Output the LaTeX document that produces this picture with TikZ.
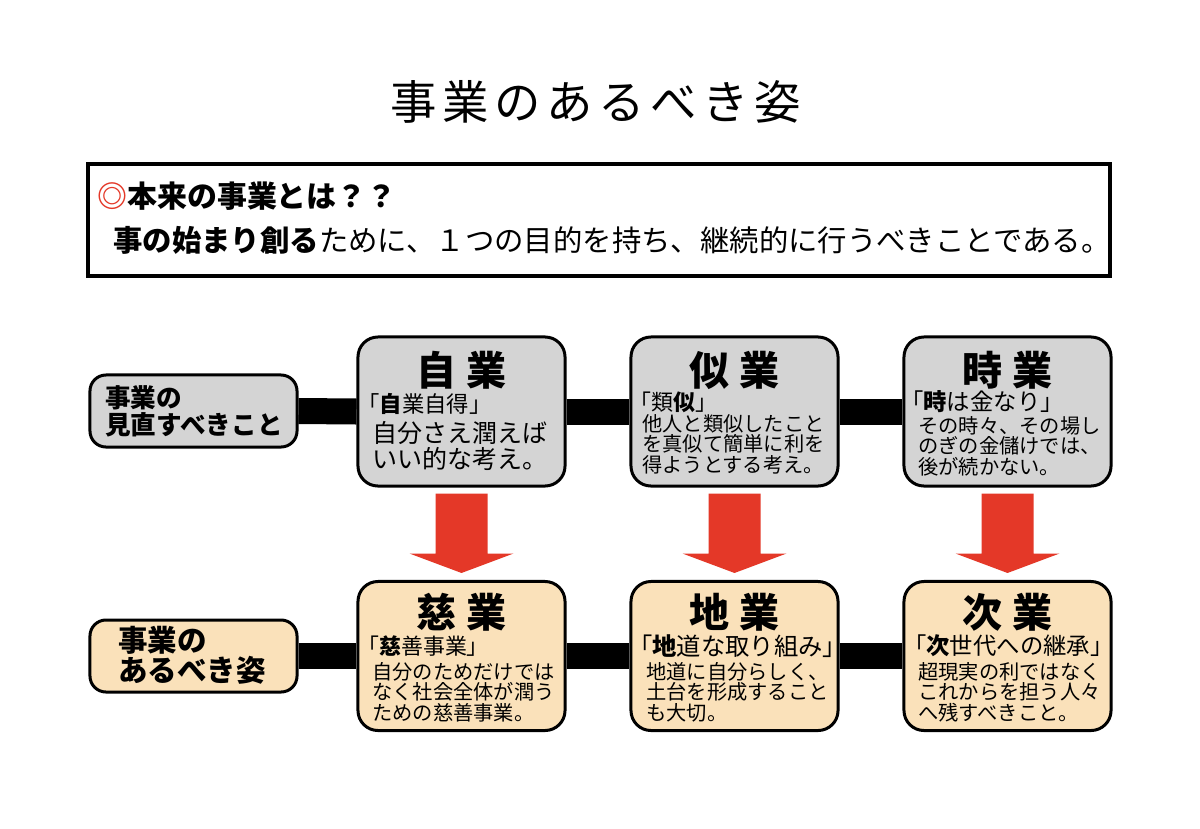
\documentclass[tikz,border=0pt]{standalone}
\usepackage{fontspec}
\setmainfont{Noto Sans CJK JP}
\newfontfamily\titlefont[LetterSpace=12]{Noto Sans CJK JP}
\usetikzlibrary{calc}

\definecolor{boxgray}{RGB}{212,212,212}
\definecolor{boxbeige}{RGB}{250,225,186}
\definecolor{arrowred}{RGB}{228,56,40}

\tikzset{
  bizbox/.style={draw=black, line width=0.075cm, rounded corners=0.5cm, minimum width=5.175cm, minimum height=3.725cm, inner sep=0pt},
  tagbox/.style={draw=black, line width=0.075cm, rounded corners=0.4cm, minimum width=5.175cm, minimum height=1.8cm, inner sep=0pt},
  headtext/.style={inner sep=0pt, font=\bfseries\fontsize{28.5}{30}\selectfont},
  quotetext/.style={inner sep=0pt, anchor=west, font=\fontsize{16}{17}\selectfont},
  bodytext/.style={inner sep=0pt, anchor=west, align=left, font=\fontsize{14.4}{14.6}\selectfont},
  bar/.style={line width=0.65cm, black},
  redarrow/.style={fill=arrowred}
}

\begin{document}
\begin{tikzpicture}[x=0.025cm, y=-0.025cm]
\useasboundingbox[fill=white] (0,0) rectangle (1200,828);

% title
\node[inner sep=0pt, font=\titlefont\fontsize{33}{34}\selectfont] (title) at (596,102) {事業のあるべき姿};

% definition box
\node[draw=black, line width=0.1cm, minimum width=25.55cm, minimum height=2.8cm, inner sep=0pt] (honrai) at (599,220) {};
\node[inner sep=0pt, anchor=west, font=\bfseries\fontsize{21.3}{22}\selectfont] (honraiq) at (97,196) {\textcolor{arrowred}{◎}本来の事業とは？？};
\node[inner sep=0pt, anchor=west, font=\fontsize{20.9}{21}\selectfont] (honraia) at (113,240) {{\bfseries 事の始まり創る}ために、１つの目的を持ち、継続的に行うべきことである。};

% upper row
\node[tagbox, fill=boxgray] (mitoshi) at (193.5,411) {};
\node[bizbox, fill=boxgray] (selfbiz) at (461.5,411.5) {};
\node[bizbox, fill=boxgray] (mimicbiz) at (734.5,411.5) {};
\node[bizbox, fill=boxgray] (timebiz) at (1007.5,411.5) {};

% lower row
\node[tagbox, fill=boxbeige] (arubeki) at (193.5,656) {};
\node[bizbox, fill=boxbeige] (charitybiz) at (461.5,656) {};
\node[bizbox, fill=boxbeige] (groundbiz) at (734.5,656) {};
\node[bizbox, fill=boxbeige] (nextbiz) at (1007.5,656) {};

% bars
\draw[bar] (mitoshi.east) -- (selfbiz.west);
\draw[bar] (selfbiz.east) -- (mimicbiz.west);
\draw[bar] (mimicbiz.east) -- (timebiz.west);
\draw[bar] (arubeki.east) -- (charitybiz.west);
\draw[bar] (charitybiz.east) -- (groundbiz.west);
\draw[bar] (groundbiz.east) -- (nextbiz.west);

% red arrows
\fill[redarrow] ($(selfbiz.south)+(-26,6)$) -- ++(52,0) -- ++(0,60) -- ++(26,0) -- ($(charitybiz.north)+(0,-7)$) -- ($(selfbiz.south)+(-52,66)$) -- ++(26,0) -- cycle;
\fill[redarrow] ($(mimicbiz.south)+(-26,6)$) -- ++(52,0) -- ++(0,60) -- ++(26,0) -- ($(groundbiz.north)+(0,-7)$) -- ($(mimicbiz.south)+(-52,66)$) -- ++(26,0) -- cycle;
\fill[redarrow] ($(timebiz.south)+(-26,6)$) -- ++(52,0) -- ++(0,60) -- ++(26,0) -- ($(nextbiz.north)+(0,-7)$) -- ($(timebiz.south)+(-52,66)$) -- ++(26,0) -- cycle;

% left labels
\node[inner sep=0pt, anchor=west, align=left, font=\bfseries\fontsize{18.2}{19.2}\selectfont] (mitoshit) at (105,411) {事業の\\見直すべきこと};
\node[inner sep=0pt, anchor=west, align=left, font=\bfseries\fontsize{21}{21.3}\selectfont] (arubekit) at (118,655) {事業の\\あるべき姿};

% upper texts
\node[headtext] (selfh) at (461.5,370) {自\hspace{0.25em}業};
\node[quotetext, font=\fontsize{15.9}{16}\selectfont] (selfq) at (357,404) {「{\bfseries 自}業自得」};
\node[bodytext, font=\fontsize{17.8}{17.8}\selectfont] (selft) at (372,446) {自分さえ潤えば\\いい的な考え。};

\node[headtext] (mimich) at (734.5,370) {似\hspace{0.25em}業};
\node[quotetext, font=\fontsize{15.6}{16}\selectfont] (mimicq) at (629,402) {「類{\bfseries 似}」};
\node[bodytext] (mimict) at (642,444) {他人と類似したこと\\を真似て簡単に利を\\得ようとする考え。};

\node[headtext] (timeh) at (1007.5,370) {時\hspace{0.25em}業};
\node[quotetext, font=\fontsize{16.6}{17}\selectfont] (timeq) at (900,402) {「{\bfseries 時}は金なり」};
\node[bodytext] (timet) at (918,446) {その時々、その場し\\のぎの金儲けでは、\\後が続かない。};

% lower texts
\node[headtext] (charityh) at (461.5,612) {慈\hspace{0.25em}業};
\node[quotetext, font=\fontsize{15.6}{16}\selectfont] (charityq) at (357,646) {「{\bfseries 慈}善事業」};
\node[bodytext] (charityt) at (372,692) {自分のためだけでは\\なく社会全体が潤う\\ための慈善事業。};

\node[headtext] (groundh) at (734.5,612) {地\hspace{0.25em}業};
\node[quotetext, font=\fontsize{17.3}{18}\selectfont] (groundq) at (628,646) {「{\bfseries 地}道な取り組み」};
\node[bodytext] (groundt) at (646,692) {地道に自分らしく、\\土台を形成すること\\も大切。};

\node[headtext] (nexth) at (1007.5,612) {次\hspace{0.25em}業};
\node[quotetext, font=\fontsize{16.6}{17}\selectfont] (nextq) at (903,646) {「{\bfseries 次}世代への継承」};
\node[bodytext] (nextt) at (918,692) {超現実の利ではなく\\これからを担う人々\\へ残すべきこと。};
\end{tikzpicture}
\end{document}
